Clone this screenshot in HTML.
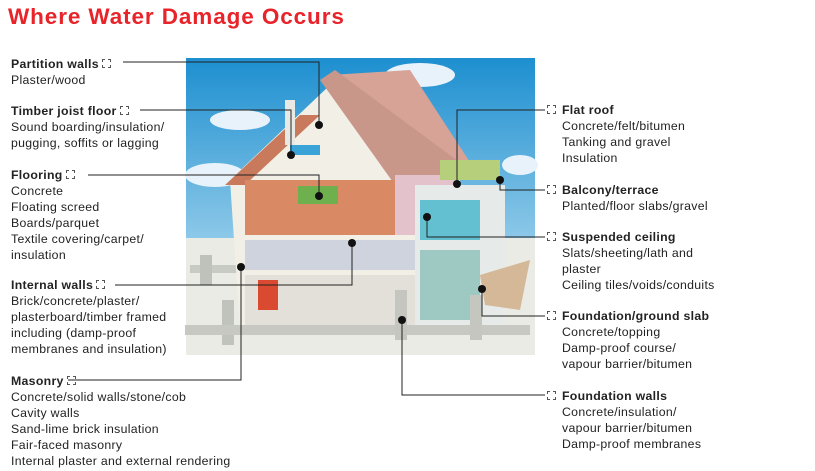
<!DOCTYPE html>
<html><head><meta charset="utf-8"><style>
body{margin:0;background:#fff;width:815px;height:471px;overflow:hidden;position:relative;font-family:"Liberation Sans",sans-serif;color:#222}
.t{position:absolute;left:8px;top:4px;font-size:22.5px;font-weight:bold;color:#e8232a;letter-spacing:0.9px}
.l{position:absolute;font-size:12.3px;line-height:16px;white-space:nowrap;letter-spacing:0.3px}
.l b{font-weight:bold}
.i{display:inline-block;width:7px;height:7px;border:1px dashed #555;margin:0 3px;vertical-align:0}
svg{position:absolute;left:0;top:0}
</style></head><body>
<div class="t">Where Water Damage Occurs</div>
<svg width="815" height="471">
<defs><linearGradient id="sk" x1="0" y1="0" x2="0" y2="1"><stop offset="0" stop-color="#1d8fd0"/><stop offset="1" stop-color="#8cc8e8"/></linearGradient></defs>
<rect x="186" y="58" width="349" height="180" fill="url(#sk)"/>
<rect x="186" y="238" width="349" height="117" fill="#e9ebe4"/>
<ellipse cx="240" cy="120" rx="30" ry="10" fill="#e8f2fa"/>
<ellipse cx="215" cy="175" rx="30" ry="12" fill="#e8f2fa"/>
<ellipse cx="420" cy="75" rx="35" ry="12" fill="#e8f2fa"/>
<ellipse cx="520" cy="165" rx="18" ry="10" fill="#e8f2fa"/>
<rect x="190" y="265" width="60" height="8" fill="#c8cac4"/>
<rect x="200" y="255" width="12" height="30" fill="#bfc1bb"/>
<rect x="222" y="300" width="12" height="45" fill="#c0c2bc"/>
<polygon points="230,180 330,85 460,175 460,330 240,330" fill="#f2efe6"/>
<polygon points="225,185 300,115 320,115 245,185" fill="#c97a5c"/>
<polygon points="330,75 410,70 475,170 455,178" fill="#d7a396"/>
<polygon points="320,80 335,70 470,170 395,185" fill="#c9978a"/>
<rect x="245" y="180" width="150" height="55" fill="#d98a64"/>
<rect x="298" y="186" width="40" height="18" fill="#6fb04e"/>
<rect x="395" y="175" width="60" height="60" fill="#e3c2cc"/>
<rect x="245" y="240" width="200" height="30" fill="#cfd3dd"/>
<rect x="245" y="275" width="200" height="55" fill="#e2e0d8"/>
<rect x="258" y="280" width="20" height="30" fill="#d94a30"/>
<rect x="285" y="100" width="10" height="45" fill="#e8e8e4"/>
<rect x="290" y="145" width="30" height="10" fill="#3aa3d8"/>
<rect x="415" y="185" width="90" height="140" fill="#e6ebea"/>
<rect x="440" y="160" width="60" height="20" fill="#b6cf7a"/>
<rect x="420" y="200" width="60" height="40" fill="#62c0d0"/>
<rect x="420" y="250" width="60" height="70" fill="#9dc9c2"/>
<polygon points="480,275 530,260 520,310 485,305" fill="#d4b898"/>
<rect x="185" y="325" width="345" height="10" fill="#c8c8c2"/>
<rect x="395" y="290" width="12" height="50" fill="#c6c6c0"/>
<rect x="470" y="295" width="12" height="45" fill="#c6c6c0"/>
<g stroke="#222" stroke-width="1" fill="none">
<polyline points="123,62 319,62 319,125"/>
<polyline points="140,110 291,110 291,155"/>
<polyline points="88,175 319,175 319,196"/>
<polyline points="115,285 352,285 352,243"/>
<polyline points="68,380 241,380 241,267"/>
<polyline points="545,110 457,110 457,184"/>
<polyline points="545,190 500,190 500,180"/>
<polyline points="545,237 427,237 427,217"/>
<polyline points="545,316 482,316 482,289"/>
<polyline points="545,395 402,395 402,320"/>
</g>
<g fill="#111">
<circle cx="319" cy="125" r="4"/><circle cx="291" cy="155" r="4"/><circle cx="319" cy="196" r="4"/>
<circle cx="352" cy="243" r="4"/><circle cx="241" cy="267" r="4"/><circle cx="457" cy="184" r="4"/>
<circle cx="500" cy="180" r="4"/><circle cx="427" cy="217" r="4"/><circle cx="482" cy="289" r="4"/><circle cx="402" cy="320" r="4"/>
</g>
</svg>
<div class="l" style="left:11px;top:56px"><b>Partition walls</b><span class="i"></span><br>Plaster/wood</div>
<div class="l" style="left:11px;top:103px"><b>Timber joist floor</b><span class="i"></span><br>Sound boarding/insulation/<br>pugging, soffits or lagging</div>
<div class="l" style="left:11px;top:167px"><b>Flooring</b><span class="i"></span><br>Concrete<br>Floating screed<br>Boards/parquet<br>Textile covering/carpet/<br>insulation</div>
<div class="l" style="left:11px;top:277px"><b>Internal walls</b><span class="i"></span><br>Brick/concrete/plaster/<br>plasterboard/timber framed<br>including (damp-proof<br>membranes and insulation)</div>
<div class="l" style="left:11px;top:373px"><b>Masonry</b><span class="i"></span><br>Concrete/solid walls/stone/cob<br>Cavity walls<br>Sand-lime brick insulation<br>Fair-faced masonry<br>Internal plaster and external rendering</div>
<div class="l" style="left:545px;top:102px"><span class="i" style="margin:0 6px 0 2px"></span><b>Flat roof</b></div>
<div class="l" style="left:562px;top:118px">Concrete/felt/bitumen<br>Tanking and gravel<br>Insulation</div>
<div class="l" style="left:545px;top:182px"><span class="i" style="margin:0 6px 0 2px"></span><b>Balcony/terrace</b></div>
<div class="l" style="left:562px;top:198px">Planted/floor slabs/gravel</div>
<div class="l" style="left:545px;top:229px"><span class="i" style="margin:0 6px 0 2px"></span><b>Suspended ceiling</b></div>
<div class="l" style="left:562px;top:245px">Slats/sheeting/lath and<br>plaster<br>Ceiling tiles/voids/conduits</div>
<div class="l" style="left:545px;top:308px"><span class="i" style="margin:0 6px 0 2px"></span><b>Foundation/ground slab</b></div>
<div class="l" style="left:562px;top:324px">Concrete/topping<br>Damp-proof course/<br>vapour barrier/bitumen</div>
<div class="l" style="left:545px;top:388px"><span class="i" style="margin:0 6px 0 2px"></span><b>Foundation walls</b></div>
<div class="l" style="left:562px;top:404px">Concrete/insulation/<br>vapour barrier/bitumen<br>Damp-proof membranes</div>
</body></html>
